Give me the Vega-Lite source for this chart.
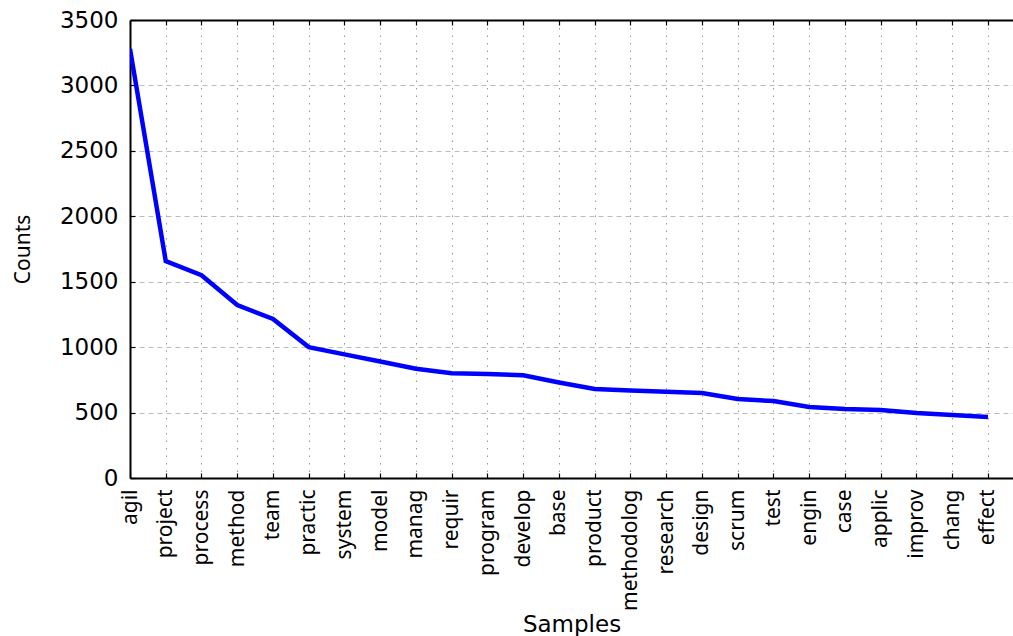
{
  "$schema": "https://vega.github.io/schema/vega-lite/v6.json",
  "autosize": "none",
  "padding": {"left": 130, "top": 20, "right": 0, "bottom": 158},
  "width": 883,
  "height": 458,
  "background": "white",
  "config": {"view": {"stroke": null}},
  "data": {
    "values": [
      {"rank": 0, "word": "agil", "count": 3280},
      {"rank": 1, "word": "project", "count": 1658},
      {"rank": 2, "word": "process", "count": 1550},
      {"rank": 3, "word": "method", "count": 1322},
      {"rank": 4, "word": "team", "count": 1215},
      {"rank": 5, "word": "practic", "count": 1000},
      {"rank": 6, "word": "system", "count": 945},
      {"rank": 7, "word": "model", "count": 890},
      {"rank": 8, "word": "manag", "count": 835},
      {"rank": 9, "word": "requir", "count": 800},
      {"rank": 10, "word": "program", "count": 795},
      {"rank": 11, "word": "develop", "count": 785},
      {"rank": 12, "word": "base", "count": 730},
      {"rank": 13, "word": "product", "count": 680},
      {"rank": 14, "word": "methodolog", "count": 668},
      {"rank": 15, "word": "research", "count": 660},
      {"rank": 16, "word": "design", "count": 650},
      {"rank": 17, "word": "scrum", "count": 604},
      {"rank": 18, "word": "test", "count": 588},
      {"rank": 19, "word": "engin", "count": 543},
      {"rank": 20, "word": "case", "count": 527},
      {"rank": 21, "word": "applic", "count": 520},
      {"rank": 22, "word": "improv", "count": 497},
      {"rank": 23, "word": "chang", "count": 481},
      {"rank": 24, "word": "effect", "count": 466}
    ]
  },
  "layer": [
    {
      "mark": {"type": "line", "color": "#0000ff", "strokeWidth": 4.5, "clip": true},
      "encoding": {
        "x": {
          "field": "rank", "type": "quantitative",
          "scale": {"domain": [0, 24.7], "nice": false, "zero": false},
          "axis": {
            "orient": "bottom",
            "values": [0,1,2,3,4,5,6,7,8,9,10,11,12,13,14,15,16,17,18,19,20,21,22,23,24],
            "labelExpr": "['agil','project','process','method','team','practic','system','model','manag','requir','program','develop','base','product','methodolog','research','design','scrum','test','engin','case','applic','improv','chang','effect'][datum.value]",
            "labelAngle": 270,
            "labelAlign": "right",
            "labelBaseline": "middle",
            "labelFont": "Noto Sans",
            "labelFontSize": 21,
            "labelColor": "#000",
            "labelPadding": 16,
            "labelOverlap": false,
            "labelFlush": false,
            "tickSize": -5,
            "tickColor": "#000",
            "tickWidth": 1.2,
            "domainColor": "#000",
            "domainWidth": 2,
            "grid": true,
            "gridColor": "#999",
            "gridDash": [1.5, 6],
            "gridWidth": 1,
            "title": "Samples",
            "titleFont": "DejaVu Sans",
            "titleFontSize": 23,
            "titleFontWeight": "normal",
            "titleColor": "#000",
            "titlePadding": 3
          }
        },
        "y": {
          "field": "count", "type": "quantitative",
          "scale": {"domain": [0, 3500], "nice": false},
          "axis": {
            "values": [0, 500, 1000, 1500, 2000, 2500, 3000, 3500],
            "format": "d",
            "labelFont": "DejaVu Sans",
            "labelFontSize": 23,
            "labelColor": "#000",
            "labelPadding": 17,
            "labelFlush": false,
            "tickSize": -5,
            "tickColor": "#000",
            "tickWidth": 1.2,
            "domainColor": "#000",
            "domainWidth": 2,
            "grid": true,
            "gridColor": "#bbb",
            "gridDash": [5, 4],
            "gridWidth": 1,
            "title": "Counts",
            "titleFont": "Noto Sans",
            "titleFontSize": 21,
            "titleFontWeight": "normal",
            "titleColor": "#000",
            "titlePadding": 26
          }
        }
      }
    },
    {
      "mark": {"type": "line", "strokeOpacity": 0},
      "encoding": {
        "x": {
          "field": "rank", "type": "quantitative",
          "axis": {
            "orient": "top",
            "values": [0,1,2,3,4,5,6,7,8,9,10,11,12,13,14,15,16,17,18,19,20,21,22,23,24],
            "labels": false,
            "tickSize": -5,
            "tickColor": "#000",
            "tickWidth": 1.2,
            "domainColor": "#000",
            "domainWidth": 2,
            "grid": false,
            "title": null
          }
        },
        "y": {"field": "count", "type": "quantitative"}
      }
    }
  ],
  "resolve": {"axis": {"x": "independent"}}
}
